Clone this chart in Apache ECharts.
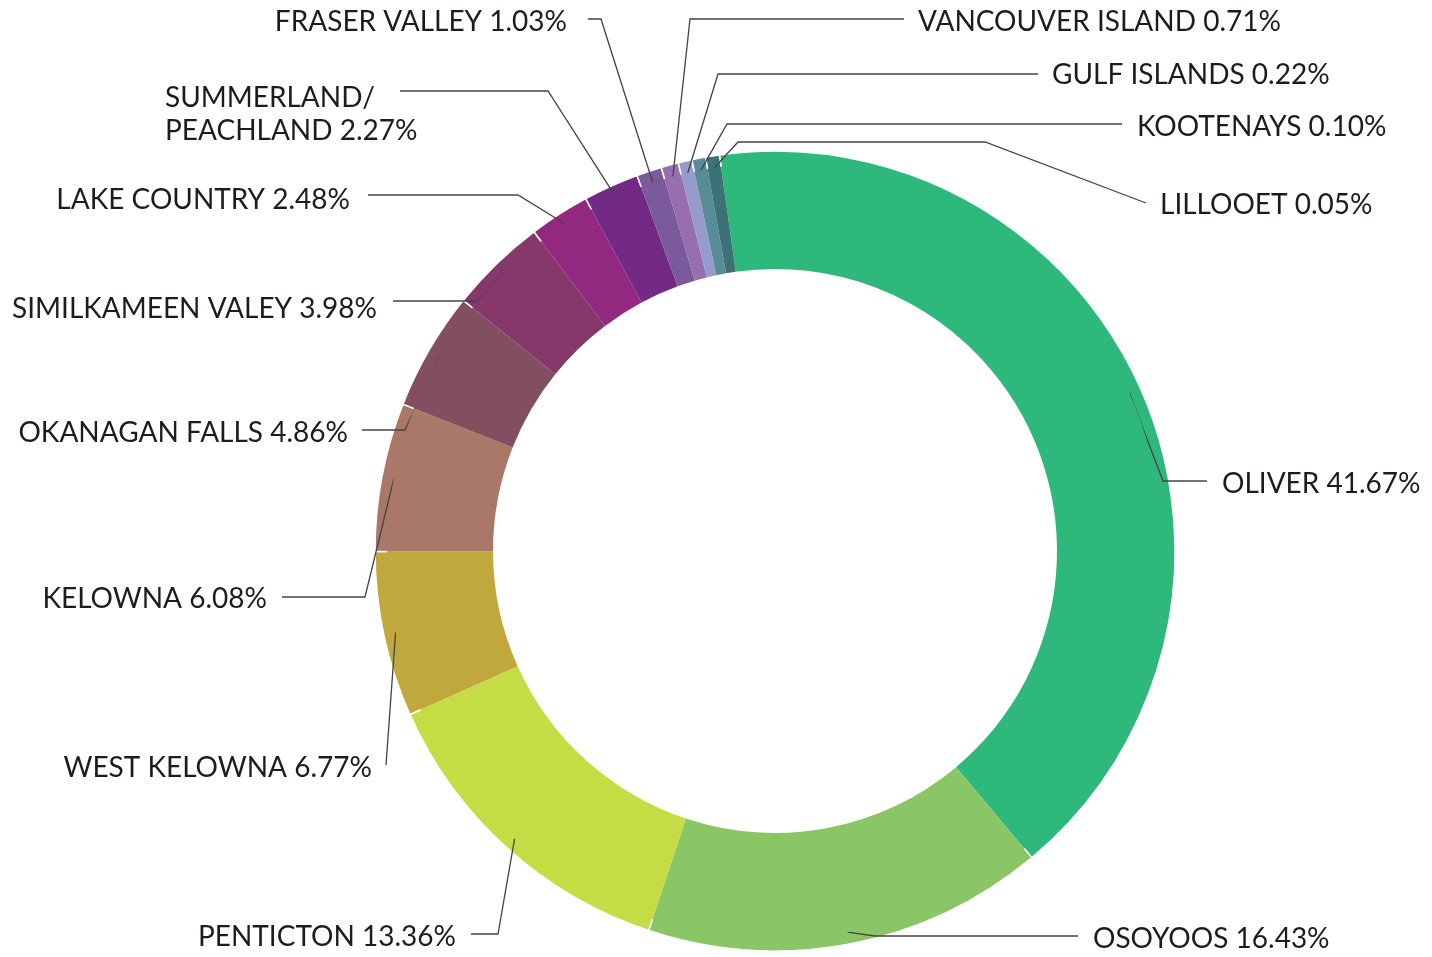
<!DOCTYPE html>
<html>
<head>
<meta charset="utf-8">
<title>Regions</title>
<script src="https://cdn.jsdelivr.net/npm/echarts@6/dist/echarts.min.js"></script>
<style>
    html, body { margin: 0; padding: 0; background: #fff; }
    #main { width: 1432px; height: 957px; }
</style>
</head>
<body>
<div id="main"></div>
<script>
// data, clockwise from the top
var regions = ['OLIVER', 'OSOYOOS', 'PENTICTON', 'WEST KELOWNA', 'KELOWNA', 'OKANAGAN FALLS',
    'SIMILKAMEEN VALEY', 'LAKE COUNTRY', 'SUMMERLAND/\nPEACHLAND', 'FRASER VALLEY',
    'VANCOUVER ISLAND', 'GULF ISLANDS', 'KOOTENAYS', 'LILLOOET'];
var shares = [41.67, 16.43, 13.36, 6.77, 6.08, 4.86, 3.98, 2.48, 2.27, 1.03, 0.71, 0.22, 0.10, 0.05];
var colors = ['#2eb87c', '#8bc666', '#c6dc44', '#c0a83c', '#aa7868', '#824f60', '#86386b',
    '#922880', '#732a85', '#7b5a9c', '#976eae', '#979bcc', '#578b95', '#3a7276'];

// where each label sits and how its leader line bends (after the point on the ring)
var labelSpots = {
    'OLIVER': { x: 1222, y: 484, align: 'left', line: [[1163, 481], [1207, 481]] },
    'OSOYOOS': { x: 1093, y: 939, align: 'left', line: [[875, 936], [1078, 936]] },
    'PENTICTON': { x: 456, y: 937, align: 'right', line: [[498, 934], [471, 934]] },
    'WEST KELOWNA': { x: 372, y: 768, align: 'right', line: [[386, 765]] },
    'KELOWNA': { x: 267, y: 599, align: 'right', line: [[365, 597], [282, 597]] },
    'OKANAGAN FALLS': { x: 348, y: 433, align: 'right', line: [[405, 430], [362, 430]] },
    'SIMILKAMEEN VALEY': { x: 377, y: 309, align: 'right', line: [[478, 301], [393, 301]] },
    'LAKE COUNTRY': { x: 350, y: 200, align: 'right', line: [[518, 195], [368, 195]] },
    'SUMMERLAND/\nPEACHLAND': { x: 165, y: 114, align: 'left', line: [[548, 91], [400, 91]] },
    'FRASER VALLEY': { x: 567, y: 22, align: 'right', line: [[601, 19], [588, 19]] },
    'VANCOUVER ISLAND': { x: 918, y: 22, align: 'left', line: [[690, 19], [904, 19]] },
    'GULF ISLANDS': { x: 1052, y: 75, align: 'left', line: [[718, 74], [1038, 74]] },
    'KOOTENAYS': { x: 1137, y: 127, align: 'left', line: [[727, 124], [1122, 124]] },
    'LILLOOET': { x: 1160, y: 205, align: 'left', line: [[738, 142], [985, 142], [1146, 203]] }
};

var myChart = echarts.init(document.getElementById('main'));

var pieData = regions.map(function (name, i) {
    return { name: name, value: shares[i], itemStyle: { color: colors[i] } };
});

var option = {
    backgroundColor: '#fff',
    animation: false,
    series: [
        {
            // the ring itself
            type: 'pie',
            center: [775, 551],
            radius: [282, 400],
            startAngle: 98,
            minAngle: 2,
            silent: true,
            label: { show: false },
            labelLine: { show: false },
            itemStyle: { borderColor: '#fff', borderWidth: 1.5 },
            data: pieData
        },
        {
            // same slices, invisible, only to carry the labels and leader lines
            type: 'pie',
            z: 3,
            center: [775, 551],
            radius: [282, 388],
            startAngle: 98,
            minAngle: 2,
            silent: true,
            avoidLabelOverlap: false,
            itemStyle: { color: 'rgba(0,0,0,0)' },
            label: {
                show: true,
                color: '#1f1b1c',
                fontFamily: 'Lato',
                fontSize: 28,
                lineHeight: 33,
                formatter: function (p) {
                    return p.name + ' ' + p.value.toFixed(2) + '%';
                }
            },
            labelLine: {
                show: true,
                length: 10,
                length2: 10,
                lineStyle: { color: '#444', width: 1.3 }
            },
            labelLayout: function (params) {
                var spot = labelSpots[regions[params.dataIndex]];
                var start = params.labelLinePoints ? params.labelLinePoints[0] : null;
                var res = { x: spot.x, y: spot.y, align: spot.align, verticalAlign: 'middle' };
                if (start) {
                    res.labelLinePoints = [start].concat(spot.line);
                }
                return res;
            },
            data: pieData
        }
    ]
};

myChart.setOption(option);
</script>
</body>
</html>
